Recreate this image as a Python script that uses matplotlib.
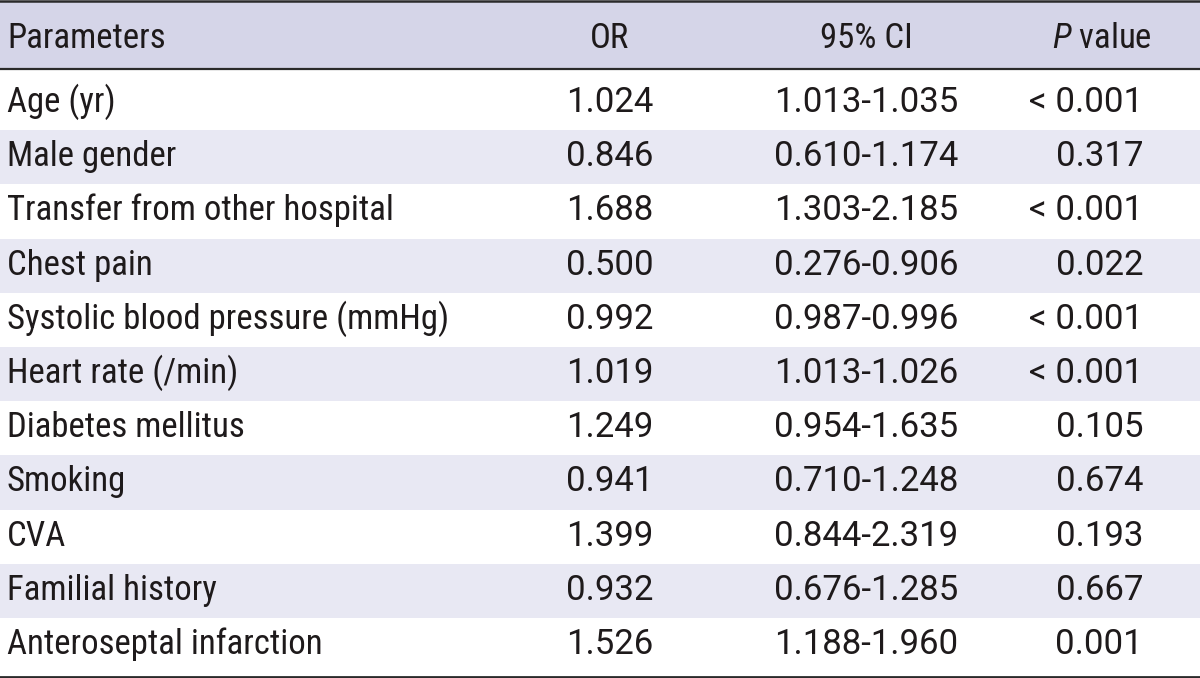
import matplotlib
matplotlib.use("Agg")
import matplotlib.pyplot as plt

# table content
params = ["Age (yr)", "Male gender", "Transfer from other hospital", "Chest pain",
          "Systolic blood pressure (mmHg)", "Heart rate (/min)", "Diabetes mellitus",
          "Smoking", "CVA", "Familial history", "Anteroseptal infarction"]
odds = ["1.024", "0.846", "1.688", "0.500", "0.992", "1.019", "1.249",
        "0.941", "1.399", "0.932", "1.526"]
ci = ["1.013-1.035", "0.610-1.174", "1.303-2.185", "0.276-0.906", "0.987-0.996",
      "1.013-1.026", "0.954-1.635", "0.710-1.248", "0.844-2.319", "0.676-1.285",
      "1.188-1.960"]
pvals = ["< 0.001", "0.317", "< 0.001", "0.022", "< 0.001", "< 0.001", "0.105",
         "0.674", "0.193", "0.667", "0.001"]
headers = ["Parameters", "OR", "95% CI", "$P$ value"]

plt.rcParams['font.family'] = ['Roboto Condensed', 'Roboto', 'DejaVu Sans']
plt.rcParams['mathtext.fontset'] = 'custom'
plt.rcParams['mathtext.it'] = 'Roboto Condensed:italic'
plt.rcParams['mathtext.rm'] = 'Roboto Condensed'

W, H = 1200, 678
fig = plt.figure(figsize=(W / 100, H / 100), dpi=100)
ax = fig.add_axes([0, 0, 1, 1])
ax.set_xlim(0, W)
ax.set_ylim(H, 0)
ax.axis('off')

fs = 25
txt_col = '#1e1a1b'
header_bg = '#d5d5e8'
band_bg = '#e8e8f3'
line_col = '#2a2a2a'
num_font = ['Roboto', 'DejaVu Sans']

row_h = 54.2
base0 = 112          # baseline of first body row
head_base = 48

# header band
ax.axhspan(1, 68.5, color=header_bg, lw=0)
# zebra bands
for i in range(len(params)):
    if i % 2 == 1:
        top = base0 - 36 + row_h * i
        ax.axhspan(top, top + row_h, color=band_bg, lw=0)

ax.axhline(1.2, color=line_col, lw=1.8)
ax.axhline(68.5, color=line_col, lw=1.6)
ax.axhline(676.5, color=line_col, lw=2.0)

# column anchors
x_par, x_or, x_ci, x_p = 7, 610, 866, 1143

ax.text(x_par, head_base, headers[0], fontsize=fs, color=txt_col, ha='left', va='baseline')
ax.text(x_or, head_base, headers[1], fontsize=fs, color=txt_col, ha='center', va='baseline')
ax.text(x_ci, head_base, headers[2], fontsize=fs, color=txt_col, ha='center', va='baseline')
ax.text(1152, head_base, headers[3], fontsize=fs, color=txt_col, ha='right', va='baseline')

for i in range(len(params)):
    y = base0 + row_h * i
    ax.text(x_par, y, params[i], fontsize=fs, color=txt_col, ha='left', va='baseline')
    ax.text(x_or, y, odds[i], fontsize=fs, color=txt_col, ha='center', va='baseline',
            family=num_font)
    ax.text(x_ci, y, ci[i], fontsize=fs, color=txt_col, ha='center', va='baseline',
            family=num_font)
    ax.text(x_p, y, pvals[i], fontsize=fs, color=txt_col, ha='right', va='baseline',
            family=num_font)

fig.savefig("out.png", dpi=100)
